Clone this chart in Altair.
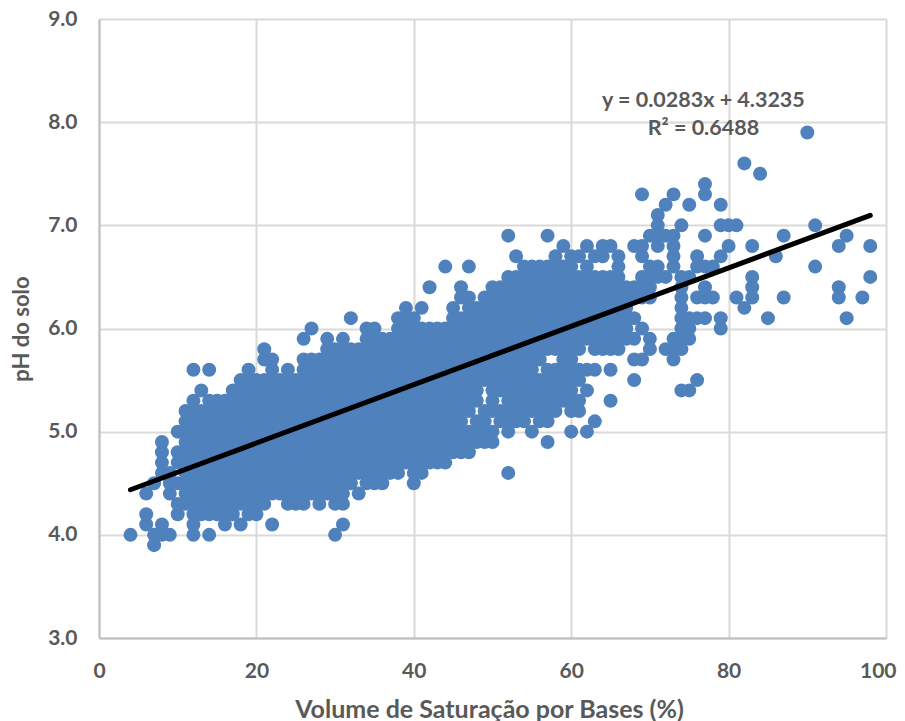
import altair as alt
import pandas as pd

# pH, in tenths, one list per base-saturation value
ph_tenths_by_x = {
    4: [40],
    6: [41, 42, 44],
    7: [39, 40, 45],
    8: [40, 41, 46, 47, 48, 49],
    9: [40, 44, 45, 46],
    10: [42, 43, 45, 47, 48, 50],
    11: [43, 44, 45, 46, 47, 48, 49, 50, 51, 52],
    12: [40, 41, 42, 43, 44, 45, 46, 47, 48, 49, 50, 51, 52, 53, 56],
    13: [42, 43, 44, 45, 46, 47, 48, 49, 50, 51, 52, 54],
    14: [40, 42, 43, 44, 45, 46, 47, 48, 49, 50, 51, 52, 53, 56],
    15: [42, 43, 44, 45, 46, 47, 48, 49, 50, 51, 52, 53],
    16: [41, 42, 43, 44, 45, 46, 47, 48, 49, 50, 51, 52, 53],
    17: [42, 43, 44, 45, 46, 47, 48, 49, 50, 51, 52, 53, 54],
    18: [41, 43, 44, 45, 46, 47, 48, 49, 50, 51, 52, 53, 54, 55],
    19: [42, 43, 44, 45, 46, 47, 48, 49, 50, 51, 52, 53, 54, 55, 56],
    20: [42, 43, 44, 45, 46, 47, 48, 49, 50, 51, 52, 53, 54, 55],
    21: [43, 44, 45, 46, 47, 48, 49, 50, 51, 52, 53, 54, 55, 57, 58],
    22: [41, 44, 45, 46, 47, 48, 49, 50, 51, 52, 53, 54, 55, 56, 57],
    23: [44, 45, 46, 47, 48, 49, 50, 51, 52, 53, 54, 55],
    24: [43, 44, 45, 46, 47, 48, 49, 50, 51, 52, 53, 54, 55, 56],
    25: [43, 44, 45, 46, 47, 48, 49, 50, 51, 52, 53, 54, 55],
    26: [43, 44, 45, 46, 47, 48, 49, 50, 51, 52, 53, 54, 55, 56, 57, 59],
    27: [44, 45, 46, 47, 48, 49, 50, 51, 52, 53, 54, 55, 56, 57, 60],
    28: [43, 44, 45, 46, 47, 48, 49, 50, 51, 52, 53, 54, 55, 56, 57],
    29: [44, 45, 46, 47, 48, 49, 50, 51, 52, 53, 54, 55, 56, 57, 58, 59],
    30: [40, 43, 44, 45, 46, 47, 48, 49, 50, 51, 52, 53, 54, 55, 56, 57, 58],
    31: [41, 43, 44, 45, 46, 47, 48, 49, 50, 51, 52, 53, 54, 55, 56, 57, 58, 59],
    32: [45, 46, 47, 48, 49, 50, 51, 52, 53, 54, 55, 56, 57, 58, 61],
    33: [44, 46, 47, 48, 49, 50, 51, 52, 53, 54, 55, 56, 57, 58],
    34: [45, 46, 47, 48, 49, 50, 51, 52, 53, 54, 55, 56, 57, 58, 59, 60],
    35: [45, 46, 47, 48, 49, 50, 51, 52, 53, 54, 55, 56, 57, 58, 59, 60],
    36: [45, 46, 47, 48, 49, 50, 51, 52, 53, 54, 55, 56, 57, 58, 59],
    37: [46, 47, 48, 49, 50, 51, 52, 53, 54, 55, 56, 57, 58, 59],
    38: [46, 47, 48, 49, 50, 51, 52, 53, 54, 55, 56, 57, 58, 59, 60, 61],
    39: [47, 48, 49, 50, 51, 52, 53, 54, 55, 56, 57, 58, 59, 60, 61, 62],
    40: [45, 46, 47, 48, 49, 50, 51, 52, 53, 54, 55, 56, 57, 58, 59, 60, 61],
    41: [46, 47, 48, 49, 50, 51, 52, 53, 54, 55, 56, 57, 58, 59, 60, 62],
    42: [47, 48, 49, 50, 51, 52, 53, 54, 55, 56, 57, 58, 59, 60, 64],
    43: [47, 48, 49, 50, 51, 52, 53, 54, 55, 56, 57, 58, 59, 60],
    44: [47, 48, 49, 50, 51, 52, 53, 54, 55, 56, 57, 58, 59, 60, 66],
    45: [48, 49, 50, 51, 52, 53, 54, 55, 56, 57, 58, 59, 60, 61, 62],
    46: [48, 49, 50, 51, 52, 53, 54, 55, 56, 57, 58, 59, 60, 61, 63, 64],
    47: [48, 49, 50, 52, 53, 54, 55, 56, 57, 58, 59, 60, 61, 62, 63, 66],
    48: [49, 50, 51, 53, 54, 55, 56, 57, 58, 59, 60, 61, 62],
    49: [49, 50, 51, 52, 55, 56, 57, 58, 59, 60, 61, 62, 63],
    50: [49, 50, 52, 53, 54, 55, 56, 57, 58, 59, 60, 61, 62, 63, 64],
    51: [51, 52, 54, 55, 56, 57, 58, 59, 60, 61, 62, 63, 64],
    52: [46, 50, 51, 52, 53, 54, 55, 56, 57, 58, 59, 60, 61, 62, 63, 64, 65, 69],
    53: [51, 52, 53, 54, 55, 56, 57, 58, 59, 60, 61, 62, 63, 64, 65, 67],
    54: [51, 52, 53, 54, 55, 56, 57, 58, 59, 60, 61, 62, 63, 64, 65, 66],
    55: [50, 52, 53, 54, 55, 56, 57, 58, 59, 60, 61, 62, 63, 64, 65, 66],
    56: [51, 52, 53, 54, 55, 57, 58, 59, 60, 61, 62, 63, 64, 65, 66],
    57: [49, 51, 52, 53, 54, 55, 56, 58, 59, 60, 61, 62, 63, 64, 65, 66, 69],
    58: [52, 53, 54, 55, 56, 58, 59, 60, 61, 62, 63, 64, 65, 66, 67],
    59: [53, 54, 55, 56, 57, 58, 59, 60, 61, 62, 63, 64, 65, 66, 68],
    60: [50, 52, 53, 54, 55, 56, 57, 58, 59, 60, 61, 62, 63, 64, 65, 66, 67],
    61: [52, 53, 55, 56, 58, 59, 60, 61, 62, 63, 64, 65, 67],
    62: [50, 54, 56, 59, 60, 61, 62, 63, 64, 65, 66, 68],
    63: [51, 56, 58, 59, 60, 61, 62, 63, 64, 65, 67],
    64: [58, 59, 60, 61, 62, 63, 64, 65, 67, 68],
    65: [53, 56, 58, 59, 60, 61, 62, 63, 64, 65, 68],
    66: [58, 59, 60, 61, 62, 63, 64, 65, 66, 67],
    67: [59, 60, 61, 62, 63, 64],
    68: [55, 57, 59, 61, 63, 64, 68],
    69: [57, 60, 63, 64, 65, 67, 68, 73],
    70: [58, 59, 63, 64, 65, 66, 69],
    71: [65, 66, 68, 69, 70, 71],
    72: [58, 65, 69, 72],
    73: [57, 58, 59, 66, 67, 68, 69, 73],
    74: [54, 58, 59, 60, 61, 62, 63, 64, 65, 70],
    75: [54, 59, 60, 61, 65, 72],
    76: [55, 61, 63, 66, 67],
    77: [61, 63, 64, 66, 69, 73, 74],
    78: [63, 66],
    79: [60, 61, 67, 70, 72],
    80: [68, 70],
    81: [63, 70],
    82: [62, 76],
    83: [63, 64, 65, 68],
    84: [75],
    85: [61],
    86: [67],
    87: [63, 69],
    90: [79],
    91: [66, 70],
    94: [63, 64, 68],
    95: [61, 69],
    97: [63],
    98: [65, 68],
}

trend_x = [4, 98]
trend_y = [4.4367, 7.0969]
equation_lines = ["y = 0.0283x + 4.3235", "R² = 0.6488"]
equation_x = [76.8, 76.8]
equation_y = [8.21, 7.93]
x_ticks = [0, 20, 40, 60, 80, 100]
y_ticks = [3, 4, 5, 6, 7, 8, 9]
x_title = "Volume de Saturação por Bases (%)"
y_title = "pH do solo"

GREY = "#595959"
FONT = "Lato"

points = pd.DataFrame(
    [{"x": x, "y": v / 10} for x, vals in ph_tenths_by_x.items() for v in vals]
)
trend = pd.DataFrame({"x": trend_x, "y": trend_y})
labels = pd.DataFrame({"x": equation_x, "y": equation_y, "t": equation_lines})

x_scale = alt.Scale(domain=[0, 100], nice=False, zero=False)
y_scale = alt.Scale(domain=[3, 9], nice=False, zero=False)

x_enc = alt.X(
    "x:Q",
    scale=x_scale,
    title=x_title,
    axis=alt.Axis(
        values=x_ticks,
        format="d",
        ticks=False,
        grid=True,
        gridColor="#d9d9d9",
        gridWidth=2,
        domainColor="#bfbfbf",
        domainWidth=2,
        labelFont=FONT,
        labelFontWeight="bold",
        labelFontSize=21,
        labelColor=GREY,
        labelPadding=22,
        labelFlush=False,
        labelAlign=alt.expr("datum.value == 100 ? 'right' : 'center'"),
        labelOffset=alt.expr("datum.value == 100 ? 10 : 0"),
        titleFont=FONT,
        titleFontWeight="bold",
        titleFontSize=25,
        titleColor=GREY,
        titlePadding=16,
        titleX=390,
    ),
)
y_enc = alt.Y(
    "y:Q",
    scale=y_scale,
    title=y_title,
    axis=alt.Axis(
        values=y_ticks,
        format=".1f",
        ticks=False,
        grid=True,
        gridColor="#d9d9d9",
        gridWidth=2,
        domainColor="#bfbfbf",
        domainWidth=2,
        labelFont=FONT,
        labelFontWeight="bold",
        labelFontSize=21,
        labelColor=GREY,
        labelPadding=22,
        titleFont=FONT,
        titleFontWeight="bold",
        titleFontSize=22,
        titleColor=GREY,
        titlePadding=14,
    ),
)

scatter = (
    alt.Chart(points)
    .mark_circle(size=195, color="#4f81bd", opacity=1)
    .encode(x=x_enc, y=y_enc)
)
line = (
    alt.Chart(trend)
    .mark_line(color="#000000", strokeWidth=5, strokeCap="round")
    .encode(x=alt.X("x:Q", scale=x_scale), y=alt.Y("y:Q", scale=y_scale))
)
text = (
    alt.Chart(labels)
    .mark_text(font=FONT, fontWeight="bold", fontSize=21.5, color=GREY, align="center", baseline="middle")
    .encode(x=alt.X("x:Q", scale=x_scale), y=alt.Y("y:Q", scale=y_scale), text="t:N")
)

chart = (
    alt.layer(scatter, line, text)
    .properties(
        width=787,
        height=619,
        autosize=alt.AutoSizeParams(type="none"),
        padding={"left": 91, "top": 11, "right": 11, "bottom": 83},
    )
    .configure_view(stroke=None)
)

chart.save("out.html", embed_options={"renderer": "svg", "actions": False})
